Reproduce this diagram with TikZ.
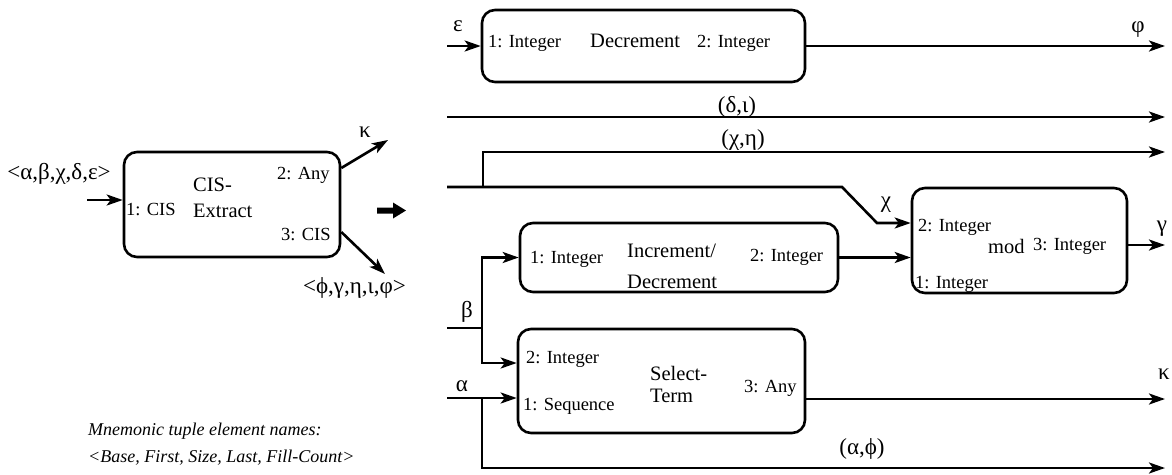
\documentclass[tikz,border=0pt]{standalone}
\usepackage{fontspec}
\setmainfont{Liberation Serif}
\usetikzlibrary{arrows.meta}
\begin{document}
\begin{tikzpicture}[x=1pt,y=-1pt,
  box/.style={draw, line width=2.6pt, rounded corners=13pt, inner sep=0pt},
  wire/.style={line width=2.6pt},
  arr/.style={wire, -{Stealth[length=16pt,width=11pt,inset=4pt]}},
  port/.style={font=\fontsize{18.5}{20}\selectfont, inner sep=0pt, anchor=base west},
  ttl/.style={font=\fontsize{20.5}{22}\selectfont, inner sep=0pt, anchor=base west},
  glab/.style={font=\fontsize{23}{25}\selectfont, inner sep=0pt},
  note/.style={font=\fontsize{18}{20}\selectfont\itshape, inner sep=0pt, anchor=base west}]
\useasboundingbox (0,0) rectangle (1172,474);

% ---------- left: CIS-Extract ----------
\node[box, minimum width=216pt, minimum height=105pt] (cis) at (232,204.5) {};
\node[port] (cisp1) at (126,215) {1: CIS};
\node[port] (cisp2) at (277,179) {2: Any};
\node[port] (cisp3) at (281,240) {3: CIS};
\node[ttl] (cist1) at (193,191) {CIS-};
\node[ttl] (cist2) at (193,217) {Extract};
\coordinate (cin) at (87,200);
\draw[arr] (cin) -- (cin -| cis.west);
\node[glab, anchor=base] (cinl) at (59,179) {<α,β,χ,δ,ε>};
\coordinate (kapo) at (388,140);
\draw[arr] ([yshift=36.5pt]cis.east) -- (kapo);
\node[glab] (kapl) at (365,132) {κ};
\coordinate (tupo) at (385,274);
\draw[arr] ([yshift=-27.5pt]cis.east) -- (tupo);
\node[glab, anchor=base east] (tupl) at (406,293) {<ϕ,γ,η,ι,φ>};

% big arrow
\fill (377,207.5) -- (393,207.5) -- (393,202.5) -- (406,210.5) -- (393,218.5) -- (393,213.5) -- (377,213.5) -- cycle;

% mnemonic note
\node[note] (n1) at (88,435) {Mnemonic tuple element names:};
\node[note] (n2) at (88,462) {<Base, First, Size, Last, Fill-Count>};

% ---------- right: network ----------
% Decrement
\node[box, minimum width=323pt, minimum height=72pt] (dec) at (643.5,46) {};
\node[port] (decp1) at (488,47) {1: Integer};
\node[ttl] (dect) at (590,47) {Decrement};
\node[port] (decp2) at (697,47) {2: Integer};
\coordinate (ein) at (447,46);
\draw[arr] (ein) -- (ein -| dec.west);
\node[glab] (epsl) at (458,26) {ε};
\coordinate (phio) at (1165,46);
\draw[arr] (dec.east) -- (phio);
\node[glab] (phil) at (1138,30) {φ};

% (delta, iota)
\coordinate (dis) at (447,117);
\coordinate (die) at (1165,117);
\draw[arr] (dis) -- (die);
\node[glab, anchor=base] (dil) at (737,112) {(δ,ι)};

% mod
\node[box, minimum width=215pt, minimum height=105pt] (mod) at (1019.5,240.5) {};
\node[port] (modp2) at (918,231) {2: Integer};
\node[ttl] (modt) at (988,253) {mod};
\node[port] (modp3) at (1033,250) {3: Integer};
\node[port] (modp1) at (915,288) {1: Integer};
\coordinate (gamo) at (1165,245);
\draw[arr] (mod.east |- gamo) -- (gamo);
\node[glab] (gaml) at (1162,229) {γ};

% (chi, eta) and chi
\coordinate (chs) at (447,187);
\coordinate (chb) at (483,187);
\coordinate (chk1) at (842,187);
\coordinate (chk2) at (877,223);
\coordinate (che) at (1165,152);
\draw[arr] (chs) -- (chk1) -- (chk2) -- (chk2 -| mod.west);
\draw[arr] (chb) |- (che);
\node[glab] (chel) at (743,140) {(χ,η)};
\node[glab] (chil) at (886,205) {χ};

% Increment/Decrement
\node[box, minimum width=318pt, minimum height=69pt] (inc) at (679,257.5) {};
\node[port] (incp1) at (530,263) {1: Integer};
\node[ttl] (inct1) at (627,257) {Increment/};
\node[ttl] (inct2) at (627,288) {Decrement};
\node[port] (incp2) at (750,261) {2: Integer};
\draw[arr] (inc.east) -- (inc.east -| mod.west);

% Select-Term
\node[box, minimum width=287pt, minimum height=104pt] (sel) at (661.5,381) {};
\node[port] (selp2) at (526,363) {2: Integer};
\node[port] (selp1) at (523,410) {1: Sequence};
\node[ttl] (selt1) at (650,380) {Select-};
\node[ttl] (selt2) at (650,402) {Term};
\node[port] (selp3) at (744,392) {3: Any};

% beta
\coordinate (bs) at (447,328);
\coordinate (bx) at (482,328);
\coordinate (bsel) at (482,363);
\draw[wire] (bs) -- (bx);
\draw[arr] (bx) |- (inc.west);
\draw[arr] (bx) -- (bsel) -- (bsel -| sel.west);
\node[glab] (betl) at (467,312) {β};

% alpha
\coordinate (as) at (447,398);
\coordinate (ab) at (482,398);
\coordinate (ae) at (1165,468);
\draw[arr] (as) -- (as -| sel.west);
\draw[arr] (ab) |- (ae);
\node[glab] (alpl) at (462,386) {α};
\node[glab] (alpp) at (862,449) {(α,ϕ)};

% kappa out
\coordinate (ko) at (1165,399);
\draw[arr] (sel.east |- ko) -- (ko);
\node[glab] (kol) at (1164,374) {κ};
\end{tikzpicture}
\end{document}
